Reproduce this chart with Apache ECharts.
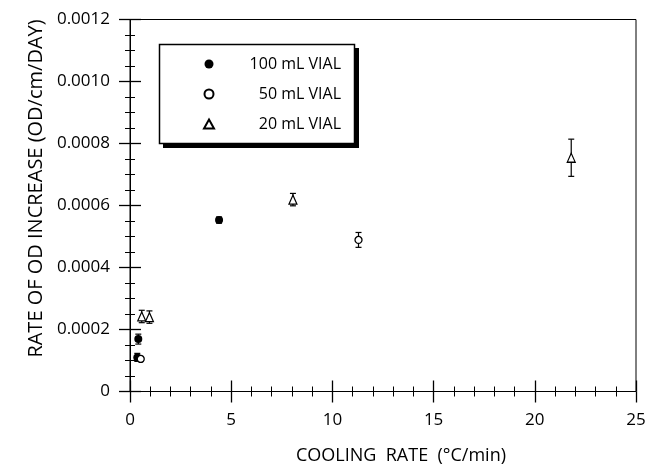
<!DOCTYPE html>
<html>
<head>
<meta charset="utf-8">
<script src="https://cdn.jsdelivr.net/npm/echarts@6/dist/echarts.min.js"></script>
<style>
html,body{margin:0;padding:0;background:#fff;}
#chart{width:649px;height:466px;}
</style>
</head>
<body>
<div id="chart"></div>
<script>
// ---- data ----
var seriesNames = ['100 mL VIAL', '50 mL VIAL', '20 mL VIAL'];
var vial100X = [0.41, 0.36, 4.4];
var vial100Y = [0.000169, 0.000110, 0.000553];
var vial100Err = [0.000016, 0.000013, 0.000010];
var vial50X = [0.53, 11.29];
var vial50Y = [0.000105, 0.000489];
var vial50Err = [0.000008, 0.000024];
var vial20X = [0.58, 0.96, 8.05, 21.8];
var vial20Y = [0.000242, 0.000240, 0.000619, 0.000754];
var vial20Err = [0.000020, 0.000020, 0.000020, 0.000060];
var xTicks = [0, 5, 10, 15, 20, 25];
var yTicks = [0, 0.0002, 0.0004, 0.0006, 0.0008, 0.0010, 0.0012];

function pts(xs, ys) { return xs.map(function (x, i) { return [x, ys[i]]; }); }
function errs(xs, ys, es) { return xs.map(function (x, i) { return [x, ys[i] - es[i], ys[i] + es[i]]; }); }

var FONT = 'Open Sans';
var chart = echarts.init(document.getElementById('chart'));

function errorSeries(data) {
  return {
    type: 'custom', xAxisIndex: 1, yAxisIndex: 1, z: 1, silent: true,
    data: data,
    encode: { x: 0, y: [1, 2] },
    renderItem: function (params, api) {
      var x = api.value(0), lo = api.value(1), hi = api.value(2);
      var a = api.coord([x, hi]), b = api.coord([x, lo]);
      var w = 3;
      var st = { stroke: '#000', lineWidth: 1.2 };
      return { type: 'group', children: [
        { type: 'line', shape: { x1: a[0], y1: a[1], x2: b[0], y2: b[1] }, style: st },
        { type: 'line', shape: { x1: a[0] - w, y1: a[1], x2: a[0] + w, y2: a[1] }, style: st },
        { type: 'line', shape: { x1: b[0] - w, y1: b[1], x2: b[0] + w, y2: b[1] }, style: st }
      ]};
    }
  };
}

var xMin = xTicks[0], xMax = xTicks[xTicks.length - 1];
var yMin = yTicks[0], yMax = yTicks[yTicks.length - 1];

function legendFmt(name) { return '{t|' + name + '}'; }

var option = {
  animation: false,
  backgroundColor: '#fff',
  grid: { left: 130, right: 13, top: 19.5, bottom: 74.5, containLabel: false, outerBoundsMode: 'none',
    show: true, borderColor: '#000', borderWidth: 1, backgroundColor: 'transparent' },
  graphic: [
    { type: 'rect', z: 50, shape: { x: 163, y: 48, width: 196, height: 100 }, style: { fill: '#000' }, silent: true },
    { type: 'rect', z: 51, shape: { x: 159.5, y: 44.5, width: 195, height: 99 }, style: { fill: '#fff', stroke: '#000', lineWidth: 1.5 }, silent: true }
  ],
  legend: {
    left: 159, top: 44, orient: 'vertical', z: 60,
    data: seriesNames,
    itemWidth: 10, itemHeight: 9, itemGap: 14,
    padding: [12, 18, 10, 44],
    formatter: legendFmt,
    textStyle: { fontFamily: FONT, fontSize: 16, color: '#000',
      rich: { t: { fontFamily: FONT, fontSize: 16, color: '#000', width: 122, align: 'right', lineHeight: 18 } } }
  },
  xAxis: [
    {
      type: 'value', min: xMin, max: xMax, interval: 5, position: 'bottom',
      name: 'COOLING  RATE  (°C/min)', nameLocation: 'middle', nameGap: 55,
      nameTextStyle: { fontFamily: FONT, fontSize: 18, color: '#000', padding: [0, 0, 0, 36] },
      axisLine: { lineStyle: { color: '#000', width: 1 } },
      axisTick: { show: true, inside: false, length: 11, lineStyle: { color: '#000', width: 1.3 } },
      minorTick: { show: true, splitNumber: 5, length: 5, lineStyle: { color: '#000', width: 1 } },
      axisLabel: { fontFamily: FONT, fontSize: 17, color: '#000', margin: 20 },
      splitLine: { show: false }
    },
    {
      type: 'value', min: xMin, max: xMax, interval: 5, position: 'bottom', offset: 0,
      axisLine: { show: true, lineStyle: { color: 'rgba(0,0,0,0)', width: 0 } },
      axisTick: { show: true, inside: true, length: 11, lineStyle: { color: '#000', width: 1.3 } },
      minorTick: { show: true, splitNumber: 5, length: 5, lineStyle: { color: '#000', width: 1 } },
      axisLabel: { show: false }, splitLine: { show: false }
    }
  ],
  yAxis: [
    {
      type: 'value', min: yMin, max: yMax, interval: 0.0002, position: 'left',
      name: 'RATE OF OD INCREASE (OD/cm/DAY)', nameLocation: 'middle', nameGap: 82,
      nameTextStyle: { fontFamily: FONT, fontSize: 20, color: '#000', padding: [0, 0, 0, 34] },
      axisLine: { lineStyle: { color: '#000', width: 1 } },
      axisTick: { show: true, inside: false, length: 11, lineStyle: { color: '#000', width: 1.3 } },
      minorTick: { show: true, splitNumber: 4, length: 5, lineStyle: { color: '#000', width: 1 } },
      axisLabel: { fontFamily: FONT, fontSize: 17, color: '#000', margin: 20,
        formatter: function (v) { return v === 0 ? '0' : v.toFixed(4); } },
      splitLine: { show: false }
    },
    {
      type: 'value', min: yMin, max: yMax, interval: 0.0002, position: 'left', offset: 0,
      axisLine: { show: true, lineStyle: { color: 'rgba(0,0,0,0)', width: 0 } },
      axisTick: { show: true, inside: true, length: 11, lineStyle: { color: '#000', width: 1.3 } },
      minorTick: { show: true, splitNumber: 4, length: 5, lineStyle: { color: '#000', width: 1 } },
      axisLabel: { show: false }, splitLine: { show: false }
    }
  ],
  series: [
    errorSeries(errs(vial100X, vial100Y, vial100Err)),
    errorSeries(errs(vial50X, vial50Y, vial50Err)),
    errorSeries(errs(vial20X, vial20Y, vial20Err)),
    {
      name: seriesNames[0], type: 'scatter', z: 3, symbol: 'circle', symbolSize: 8,
      itemStyle: { color: '#000', borderColor: '#000', borderWidth: 0, opacity: 1 },
      data: pts(vial100X, vial100Y)
    },
    {
      name: seriesNames[1], type: 'scatter', z: 3, symbol: 'circle', symbolSize: 7,
      itemStyle: { color: '#fff', borderColor: '#000', borderWidth: 1.3, opacity: 1 },
      data: pts(vial50X, vial50Y)
    },
    {
      name: seriesNames[2], type: 'scatter', z: 3, symbol: 'triangle', symbolSize: [8, 9],
      itemStyle: { color: '#fff', borderColor: '#000', borderWidth: 1.2, opacity: 1 },
      data: pts(vial20X, vial20Y)
    }
  ]
};
chart.setOption(option);
</script>
</body>
</html>
